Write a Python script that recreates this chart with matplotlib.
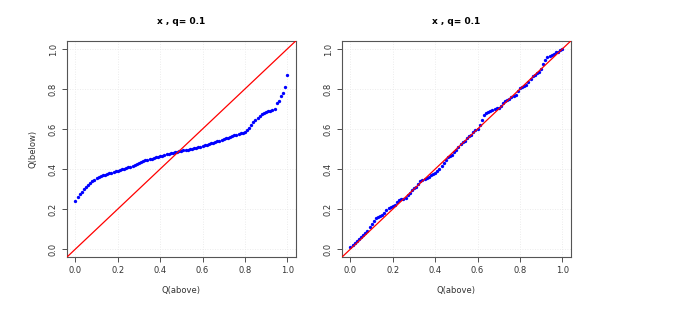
import numpy as np
import matplotlib
matplotlib.use("Agg")
import matplotlib.pyplot as plt

# valores (cuantiles, paso 0.01 en el eje x)
izq_y = [0.24, 0.26, 0.275, 0.285, 0.30, 0.31, 0.32, 0.33, 0.34, 0.345,
         0.355, 0.36, 0.365, 0.37, 0.372, 0.375, 0.378, 0.381, 0.385, 0.388,
         0.39, 0.394, 0.398, 0.402, 0.405, 0.408, 0.412, 0.416, 0.42, 0.425,
         0.43, 0.435, 0.44, 0.443, 0.446, 0.449, 0.452, 0.455, 0.458, 0.461,
         0.464, 0.467, 0.470, 0.473, 0.476, 0.479, 0.482, 0.485, 0.487, 0.489,
         0.491, 0.493, 0.495, 0.497, 0.499, 0.501, 0.503, 0.505, 0.508, 0.511,
         0.514, 0.518, 0.522, 0.526, 0.529, 0.532, 0.535, 0.538, 0.542, 0.546,
         0.55, 0.553, 0.556, 0.56, 0.564, 0.568, 0.572, 0.575, 0.578, 0.58,
         0.585, 0.595, 0.605, 0.62, 0.635, 0.645, 0.655, 0.665, 0.675, 0.68,
         0.685, 0.688, 0.692, 0.696, 0.70, 0.73, 0.74, 0.765, 0.78, 0.81,
         0.87]
der_y = [0.01, 0.02, 0.03, 0.04, 0.05, 0.06, 0.07, 0.08, 0.09, 0.11,
         0.125, 0.14, 0.155, 0.16, 0.165, 0.17, 0.18, 0.195, 0.205, 0.21,
         0.215, 0.22, 0.235, 0.245, 0.25, 0.25, 0.255, 0.27, 0.28, 0.295,
         0.305, 0.31, 0.325, 0.34, 0.345, 0.35, 0.355, 0.36, 0.37, 0.375,
         0.38, 0.388, 0.40, 0.415, 0.43, 0.445, 0.46, 0.465, 0.47, 0.485,
         0.495, 0.51, 0.525, 0.535, 0.54, 0.555, 0.565, 0.57, 0.585, 0.595,
         0.60, 0.62, 0.645, 0.67, 0.68, 0.685, 0.69, 0.695, 0.70, 0.705,
         0.705, 0.715, 0.73, 0.74, 0.745, 0.75, 0.76, 0.765, 0.77, 0.79,
         0.805, 0.81, 0.815, 0.82, 0.835, 0.85, 0.865, 0.87, 0.88, 0.885,
         0.90, 0.925, 0.945, 0.96, 0.965, 0.97, 0.975, 0.985, 0.985, 0.995,
         1.00]
ticks = [0.0, 0.2, 0.4, 0.6, 0.8, 1.0]
titulo = "x , q= 0.1"

fig = plt.figure(figsize=(6.83, 3.33), dpi=100)
paneles = [(0.098, izq_y, True), (0.5007, der_y, False)]

for izquierda, ys, con_ylabel in paneles:
    ax = fig.add_axes([izquierda, 0.228, 0.335, 0.649])
    xs = np.linspace(0, 1, len(ys))
    ax.set_xlim(-0.04, 1.04)
    ax.set_ylim(-0.04, 1.04)
    # rejilla punteada gris claro
    for t in ticks:
        ax.axvline(t, color="#e6e6e6", lw=0.6, ls=(0, (1, 2)), zorder=0)
        ax.axhline(t, color="#e6e6e6", lw=0.6, ls=(0, (1, 2)), zorder=0)
    ax.plot(xs, ys, "o", color="blue", ms=2.4, mec="none", zorder=2)
    ax.axline((0, 0), slope=1, color="red", lw=0.9, zorder=3)
    ax.set_xticks(ticks)
    ax.set_yticks(ticks)
    ax.set_xticklabels([f"{t:.1f}" for t in ticks])
    ax.set_yticklabels([f"{t:.1f}" for t in ticks], rotation=90, va="center")
    ax.tick_params(labelsize=6, length=3.5, width=0.6, colors="#333333", pad=3)
    for s in ax.spines.values():
        s.set_color("#555555")
        s.set_linewidth(0.8)
    ax.set_title(titulo, fontsize=6.5, fontweight="bold", pad=12)
    ax.set_xlabel("Q(above)", fontsize=6, color="#333333", labelpad=8)
    if con_ylabel:
        ax.set_ylabel("Q(below)", fontsize=6, color="#333333", labelpad=8)

fig.savefig("out.png", dpi=100)
